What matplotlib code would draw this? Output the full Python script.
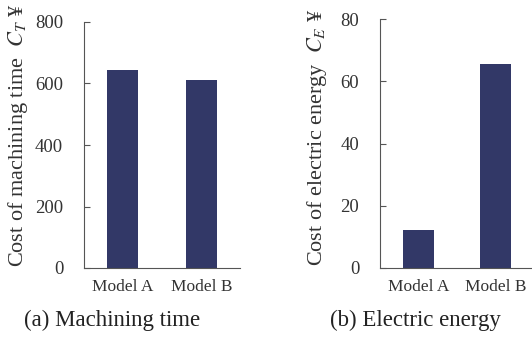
import matplotlib.pyplot as plt

models = ["Model A", "Model B"]
cost_time = [644, 611]
cost_energy = [12.2, 65.5]

plt.rcParams['font.family'] = ['Liberation Serif', 'DejaVu Serif']
plt.rcParams['mathtext.fontset'] = 'stix'

bar_color = '#323867'
axis_color = '#555555'
text_color = '#333333'

fig = plt.figure(figsize=(5.32, 3.38), dpi=100)

ax1 = fig.add_axes([84 / 532, 70 / 338, 156 / 532, 246 / 338])
ax2 = fig.add_axes([380 / 532, 70 / 338, 152 / 532, 249 / 338])

ax1.bar([0, 1], cost_time, width=0.39, color=bar_color)
ax1.set_xlim(-0.485, 1.487)
ax1.set_ylim(0, 800)
ax1.set_yticks([0, 200, 400, 600, 800])

ax2.bar([0, 1], cost_energy, width=0.4, color=bar_color)
ax2.set_xlim(-0.497, 1.465)
ax2.set_ylim(0, 80)
ax2.set_yticks([0, 20, 40, 60, 80])

for ax in (ax1, ax2):
    ax.spines['top'].set_visible(False)
    ax.spines['right'].set_visible(False)
    ax.spines['left'].set_color(axis_color)
    ax.spines['bottom'].set_color(axis_color)
    ax.set_xticks([0, 1])
    ax.set_xticklabels(models, fontsize=12.5, color=text_color)
    ax.tick_params(axis='x', length=0, pad=8)
    ax.tick_params(axis='y', direction='in', length=4, color=axis_color,
                   labelsize=13.5, pad=15, labelcolor=text_color)

# y labels placed as figure text
fig.text(18 / 532, 1 - 135 / 338, 'Cost of machining time  $C_T$ ¥', fontsize=16,
         rotation=90, ha='center', va='center', color=text_color)
fig.text(317 / 532, 1 - 137 / 338, 'Cost of electric energy  $C_E$ ¥', fontsize=16,
         rotation=90, ha='center', va='center', color=text_color)

fig.text(112 / 532, 1 - 320 / 338, '(a) Machining time', fontsize=16.5,
         ha='center', va='center', color='#222222')
fig.text(415 / 532, 1 - 320 / 338, '(b) Electric energy', fontsize=16.5,
         ha='center', va='center', color='#222222')

fig.savefig('out.png', dpi=100)
